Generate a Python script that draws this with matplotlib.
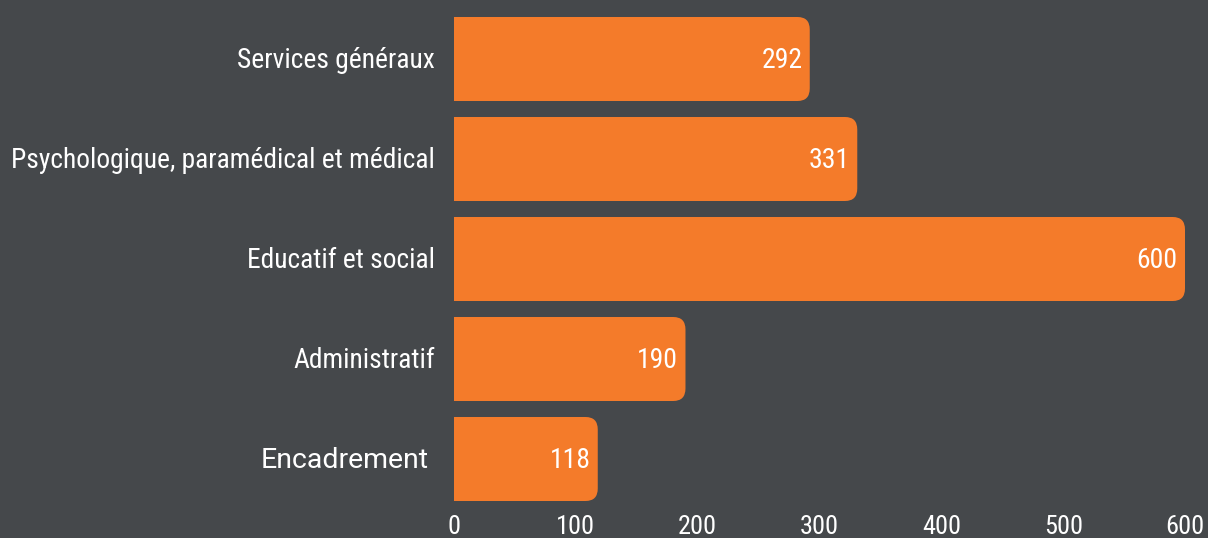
import matplotlib.pyplot as plt
import matplotlib.transforms as mtransforms
from matplotlib.patches import FancyBboxPatch
from matplotlib import font_manager as fm

# Données
categories = ["Encadrement", "Administratif", "Educatif et social",
              "Psychologique, paramédical et médical", "Services généraux"]
effectifs = [118, 190, 600, 331, 292]
x_ticks = [0, 100, 200, 300, 400, 500, 600]

bg = "#45484b"
orange = "#f47b2a"

names = {f.name for f in fm.fontManager.ttflist}
cond = "Roboto Condensed" if "Roboto Condensed" in names else "Roboto"
plt.rcParams["font.family"] = [cond, "DejaVu Sans"]

fig = plt.figure(figsize=(12.08, 5.38), dpi=100, facecolor=bg)
ax = fig.add_axes([454 / 1208, 29 / 538, 731 / 1208, 500 / 538])
ax.set_facecolor(bg)

bars = ax.barh(range(len(categories)), effectifs, height=0.84, color=orange)

# coins arrondis à droite
r = 10
for b in bars:
    x, y, w, h = b.get_x(), b.get_y(), b.get_width(), b.get_height()
    ax.add_patch(FancyBboxPatch((x, y), w, h,
                                boxstyle=f"round,pad=0,rounding_size={r}",
                                mutation_aspect=0.0125,
                                facecolor=orange, edgecolor="none"))
    b.set_width(w / 2)
    ax.text(x + w - 6, y + h / 2 - 0.01, f"{w:.0f}", ha="right", va="center",
            color="white", fontsize=20)

ax.set_xlim(0, 600)
ax.set_ylim(-0.5, len(categories) - 0.5)
ax.set_xticks(x_ticks)
ax.set_yticks(range(len(categories)))
ax.set_yticklabels(categories)
for s in ax.spines.values():
    s.set_visible(False)
ax.tick_params(axis="both", length=0, colors="white")
ax.tick_params(axis="y", pad=14, labelsize=19.8)
ax.tick_params(axis="x", pad=4, labelsize=19)

# remonter un peu les libellés
up = mtransforms.ScaledTranslation(0, 2 / 100, fig.dpi_scale_trans)
for lab in ax.get_yticklabels():
    lab.set_transform(lab.get_transform() + up)

# Encadrement : police différente
enc = ax.get_yticklabels()[0]
enc.set_fontfamily(["Roboto", "DejaVu Sans"])
enc.set_fontsize(20.5)
enc.set_x(-0.008)

fig.savefig("out.png", dpi=100, facecolor=bg)
